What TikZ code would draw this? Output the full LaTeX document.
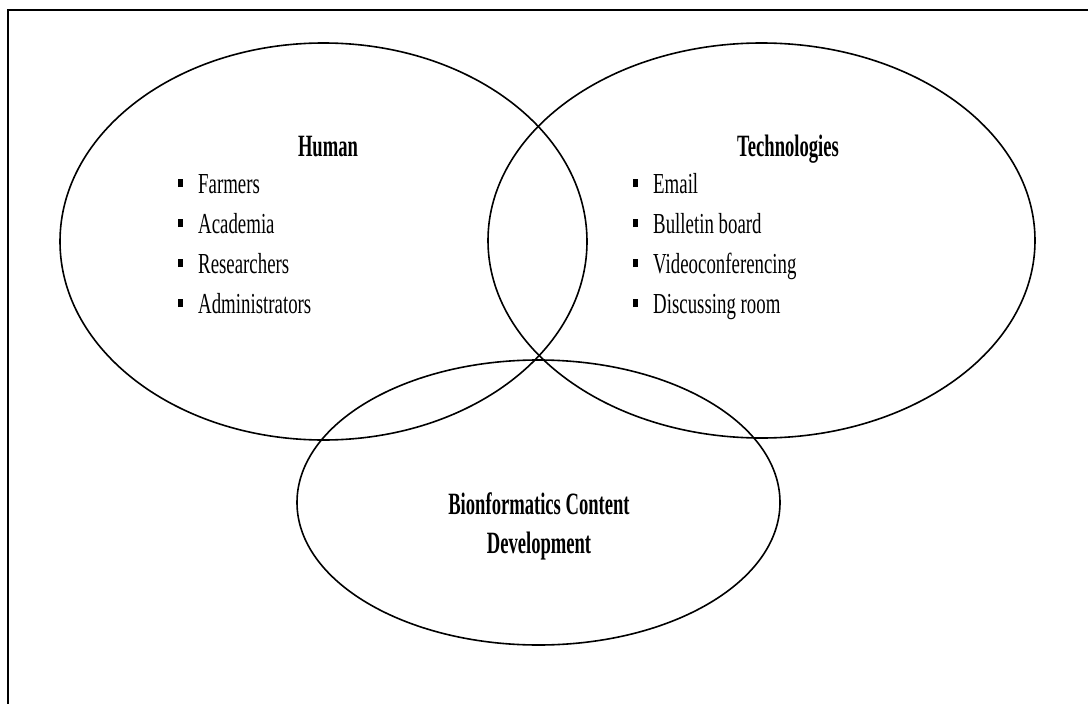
\documentclass[tikz,border=0pt]{standalone}
\usepackage{fontspec}
\setmainfont{Liberation Serif}
\newfontfamily\itemfont[FakeStretch=0.65]{Liberation Serif}
\newfontfamily\headfont[FakeStretch=0.6]{Liberation Serif Bold}
\usepackage{tikz}
\usetikzlibrary{shapes.geometric, positioning}

\newcommand{\sqbullet}{\makebox[20pt][l]{\raisebox{6pt}{\rule{5pt}{8pt}}}}

\begin{document}
\begin{tikzpicture}[
    x=1pt, y=-1pt,
    circle set/.style={draw=black, ellipse, line width=1.6pt, inner sep=0pt},
    head/.style={anchor=base, inner sep=0pt, font=\headfont\fontsize{31}{36}\selectfont},
    item/.style={anchor=base west, inner sep=0pt, font=\itemfont\fontsize{29}{34}\selectfont}
  ]
  \useasboundingbox (0,0) rectangle (1088,704);
  % frame
  \draw[line width=1.6pt] (8,704) -- (8,10) -- (1088,10);

  % the three sets
  \node[circle set, minimum width=527pt, minimum height=397pt] (human) at (323.5,241.5) {};
  \node[circle set, minimum width=547pt, minimum height=395pt] (tech) at (761.5,240.5) {};
  \node[circle set, minimum width=483pt, minimum height=285pt] (content) at (538.5,502.5) {};

  % Human
  \node[head] (humanhead) at (328,156) {Human};
  \node[item] (farmers) at (178,193) {\sqbullet Farmers};
  \node[item] (academia) at (178,233) {\sqbullet Academia};
  \node[item] (researchers) at (178,273) {\sqbullet Researchers};
  \node[item] (admins) at (178,313) {\sqbullet Administrators};

  % Technologies
  \node[head] (techhead) at (788,156) {Technologies};
  \node[item] (email) at (633,193) {\sqbullet Email};
  \node[item] (bulletin) at (633,233) {\sqbullet Bulletin board};
  \node[item] (video) at (633,273) {\sqbullet Videoconferencing};
  \node[item] (discuss) at (633,313) {\sqbullet Discussing room};

  % Content development
  \node[head] (contenthead) at (539,514) {Bionformatics Content};
  \node[head] (contentsub) at (539,553) {Development};
\end{tikzpicture}
\end{document}
